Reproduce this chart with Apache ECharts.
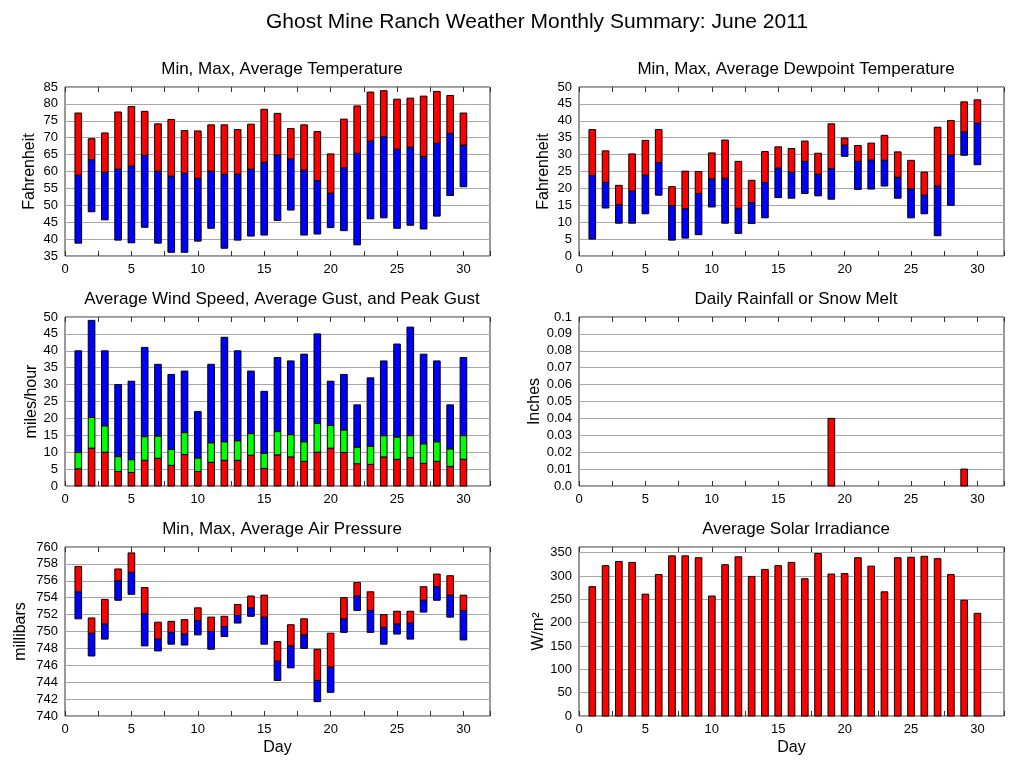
<!DOCTYPE html>
<html>
<head>
<meta charset="utf-8">
<script src="https://cdn.jsdelivr.net/npm/echarts@6/dist/echarts.min.js"></script>
<style>
html,body{margin:0;padding:0;background:#fff;}
#chart{width:1027px;height:772px;}
</style>
</head>
<body>
<div id="chart"></div>
<script>
const days = [1,2,3,4,5,6,7,8,9,10,11,12,13,14,15,16,17,18,19,20,21,22,23,24,25,26,27,28,29,30];

const tempMin = [38.8,48.1,45.7,39.7,38.9,43.5,38.8,36.1,36.1,39.4,43.2,37.3,39.7,40.9,41.2,45.5,48.6,41.2,41.5,43.4,42.5,38.3,46.0,46.3,43.2,44.1,43.0,46.8,52.9,55.5];
const tempAvg = [58.9,63.5,59.8,60.7,61.6,64.8,60.1,58.6,59.5,58.0,60.1,59.2,59.2,60.7,62.7,64.9,63.7,60.4,57.3,53.6,61.1,65.4,69.0,70.3,66.6,67.2,64.5,68.4,71.3,67.8];
const tempMax = [77.3,69.7,71.4,77.6,79.2,77.8,74.1,75.4,72.1,72.0,73.8,73.8,72.4,74.0,78.4,77.2,72.7,73.8,71.8,65.2,75.5,79.4,83.5,83.9,81.4,81.7,82.3,83.7,82.5,77.3];

const dewMin = [5.0,14.2,9.7,9.7,12.5,18.0,4.7,5.3,6.3,14.5,9.7,6.7,9.6,11.3,17.3,17.1,18.5,17.8,16.8,29.5,19.7,19.8,20.7,17.1,11.3,12.5,6.0,15.0,29.8,27.0];
const dewAvg = [23.8,21.8,15.2,19.2,23.9,27.6,14.9,14.0,18.5,22.8,23.0,14.1,15.8,21.7,26.0,24.8,28.0,24.2,25.8,32.8,28.0,28.4,28.3,23.3,19.9,18.0,20.7,29.9,36.7,39.3];
const dewMax = [37.4,31.1,20.9,30.2,34.2,37.4,20.5,25.1,25.0,30.5,34.3,28.0,22.4,30.9,32.3,31.8,34.0,30.4,39.1,34.9,32.7,33.4,35.7,30.8,28.3,24.8,38.1,40.1,45.6,46.2];

const windAvg = [5.1,11.2,10.0,4.3,4.0,7.6,8.2,6.1,9.3,4.3,7.0,7.6,7.6,9.1,5.2,9.2,8.6,7.3,10.0,11.2,9.9,6.6,6.4,8.6,7.9,8.4,6.7,7.3,5.8,7.9];
const gustAvg = [9.9,20.3,17.8,8.7,7.8,14.6,14.8,10.8,15.8,8.3,12.8,13.1,13.4,15.5,9.7,16.1,15.2,13.1,18.5,17.9,16.6,11.5,11.8,14.9,14.5,14.9,12.5,13.1,11.0,14.9];
const gustPeak = [40,49,40,30,31,41,36,33,34,22,36,44,40,34,28,38,37,39,45,31,33,24,32,37,42,47,39,37,24,38];

const rain = [0,0,0,0,0,0,0,0,0,0,0,0,0,0,0,0,0,0,0.04,0,0,0,0,0,0,0,0,0,0.01,0];

const presMin = [751.5,747.1,749.1,753.7,754.4,748.3,747.7,748.5,748.4,749.6,747.9,749.4,751.0,751.8,748.5,744.2,745.7,748.0,741.7,742.8,749.9,752.5,749.9,748.5,749.7,749.1,752.3,753.7,751.7,749.0];
const presAvg = [754.7,749.8,750.9,756.0,757.0,752.1,749.1,749.9,749.7,751.3,750.0,750.6,751.9,752.8,751.7,746.5,748.3,749.6,744.2,745.8,751.5,754.2,752.5,750.5,750.9,751.0,753.7,755.3,754.3,752.5];
const presMax = [757.7,751.6,753.8,757.4,759.3,755.2,751.1,751.2,751.4,752.8,751.7,751.8,753.2,754.2,754.3,748.8,750.8,751.5,747.9,749.8,754.0,755.8,754.7,752.0,752.4,752.4,755.3,756.8,756.6,754.3];

const solar = [277,322,331,329,261,303,343,343,339,257,324,341,299,314,322,329,294,348,304,305,339,321,266,339,340,342,337,303,248,220];

const FONT = 'Liberation Sans, Arial, Helvetica, sans-serif';
const RED = '#ff0000', BLUE = '#0000ff', GREEN = '#00ff00';
const BAR_W = 0.5;

function seg(api, x, y0, y1, color) {
  const w = api.size([BAR_W, 0])[0];
  const a = api.coord([x, y0]);
  const b = api.coord([x, y1]);
  return {
    type: 'rect',
    shape: {x: a[0] - w / 2, y: Math.min(a[1], b[1]), width: w, height: Math.abs(a[1] - b[1])},
    style: {fill: color, stroke: '#000', lineWidth: 1}
  };
}
function rangeItem(params, api) {
  const x = api.value(0);
  return {type: 'group', children: [
    seg(api, x, api.value(1), api.value(2), BLUE),
    seg(api, x, api.value(2), api.value(3), RED)
  ]};
}
function windItem(params, api) {
  const x = api.value(0);
  return {type: 'group', children: [
    seg(api, x, 0, api.value(1), RED),
    seg(api, x, api.value(1), api.value(2), GREEN),
    seg(api, x, api.value(2), api.value(3), BLUE)
  ]};
}
function singleItem(params, api) {
  const v = api.value(1);
  if (!v) return null;
  return seg(api, api.value(0), 0, v, RED);
}

const grids = [
  {left: 65, top: 87, width: 425, height: 169},
  {left: 579, top: 87, width: 425, height: 169},
  {left: 65, top: 317, width: 425, height: 169},
  {left: 579, top: 317, width: 425, height: 169},
  {left: 65, top: 547, width: 425, height: 169},
  {left: 579, top: 547, width: 425, height: 169}
].map(g => Object.assign(g, {show: true, borderColor: '#333', borderWidth: 1, backgroundColor: '#fff', containLabel: false}));

const xAxes = [];
for (let i = 0; i < 6; i++) {
  const base = {
    type: 'value', gridIndex: i, min: 0, max: 32, interval: 2.5,
    axisLine: {show: false},
    axisTick: {show: true, inside: true, length: 5, lineStyle: {color: '#333'}},
    splitLine: {show: false}
  };
  xAxes.push(Object.assign({}, base, {
    position: 'bottom',
    axisLabel: {show: true, color: '#000', fontFamily: FONT, fontSize: 13, margin: 7,
      formatter: v => (Math.abs(v % 5) < 1e-9 ? String(v) : '')},
    name: i >= 4 ? 'Day' : '',
    nameLocation: 'middle', nameGap: 24,
    nameTextStyle: {color: '#000', fontFamily: FONT, fontSize: 16}
  }));
  xAxes.push(Object.assign({}, base, {position: 'top', axisLabel: {show: false}}));
}

function yAxis(i, min, max, interval, name, fmt, gap) {
  return {
    type: 'value', gridIndex: i, min: min, max: max, interval: interval,
    axisLine: {show: false},
    axisTick: {show: false},
    splitLine: {show: true, lineStyle: {color: '#a8a8a8', width: 1}},
    axisLabel: {color: '#000', fontFamily: FONT, fontSize: 13, margin: 7, formatter: fmt, showMaxLabel: true},
    name: name, nameLocation: 'middle', nameGap: gap, nameRotate: 90,
    nameTextStyle: {color: '#000', fontFamily: FONT, fontSize: 16}
  };
}
const yAxes = [
  yAxis(0, 35, 85, 5, 'Fahrenheit', v => String(v), 27),
  yAxis(1, 0, 50, 5, 'Fahrenheit', v => String(v), 27),
  yAxis(2, 0, 50, 5, 'miles/hour', v => String(v), 25),
  yAxis(3, 0, 0.1, 0.01, 'Inches', v => {
    const n = Math.round(v * 100);
    if (n === 0) return '0.0';
    if (n === 10) return '0.1';
    return '0.0' + n;
  }, 36),
  yAxis(4, 740, 760, 2, 'millibars', v => String(Math.round(v)), 36),
  yAxis(5, 0, 362, 50, 'W/m²', v => (Math.round(v) % 50 === 0 ? String(Math.round(v)) : ''), 30)
];

const subTitle = (text, cx, top) => ({
  text: text, left: cx, top: top, textAlign: 'center',
  textStyle: {color: '#000', fontFamily: FONT, fontSize: 17, fontWeight: 'normal'}
});

const option = {
  animation: false,
  backgroundColor: '#fff',
  title: [
    {text: 'Ghost Mine Ranch Weather Monthly Summary: June 2011', left: 532, top: 7, textAlign: 'center',
      textStyle: {color: '#000', fontFamily: FONT, fontSize: 21, fontWeight: 'normal'}},
    subTitle('Min, Max, Average Temperature', 277, 56),
    subTitle('Min, Max, Average Dewpoint Temperature', 791, 56),
    subTitle('Average Wind Speed, Average Gust, and Peak Gust', 277, 286),
    subTitle('Daily Rainfall or Snow Melt', 791, 286),
    subTitle('Min, Max, Average Air Pressure', 277, 516),
    subTitle('Average Solar Irradiance', 791, 516)
  ],
  grid: grids,
  xAxis: xAxes,
  yAxis: yAxes,
  series: [
    {type: 'custom', xAxisIndex: 0, yAxisIndex: 0, renderItem: rangeItem,
      data: days.map((d, i) => [d, tempMin[i], tempAvg[i], tempMax[i]])},
    {type: 'custom', xAxisIndex: 2, yAxisIndex: 1, renderItem: rangeItem,
      data: days.map((d, i) => [d, dewMin[i], dewAvg[i], dewMax[i]])},
    {type: 'custom', xAxisIndex: 4, yAxisIndex: 2, renderItem: windItem,
      data: days.map((d, i) => [d, windAvg[i], gustAvg[i], gustPeak[i]])},
    {type: 'custom', xAxisIndex: 6, yAxisIndex: 3, renderItem: singleItem,
      data: days.map((d, i) => [d, rain[i]])},
    {type: 'custom', xAxisIndex: 8, yAxisIndex: 4, renderItem: rangeItem,
      data: days.map((d, i) => [d, presMin[i], presAvg[i], presMax[i]])},
    {type: 'custom', xAxisIndex: 10, yAxisIndex: 5, renderItem: singleItem,
      data: days.map((d, i) => [d, solar[i]])}
  ]
};

const chart = echarts.init(document.getElementById('chart'), null, {renderer: 'canvas'});
chart.setOption(option);
</script>
</body>
</html>
